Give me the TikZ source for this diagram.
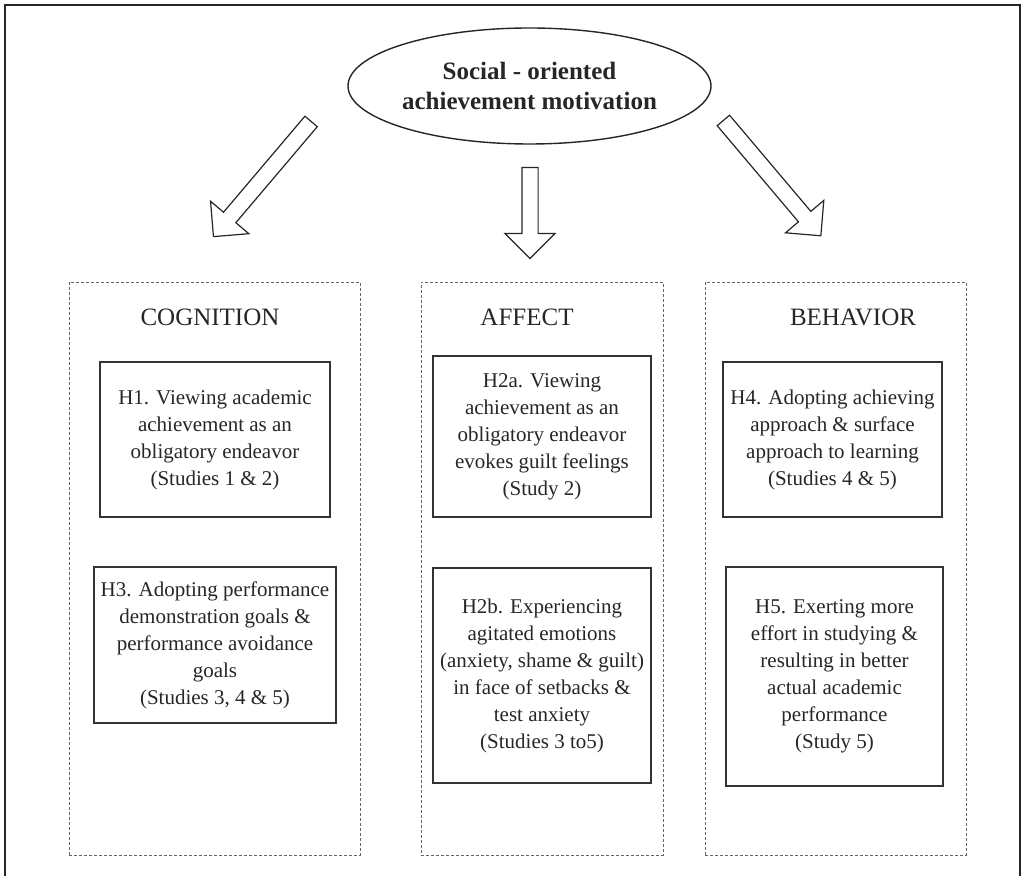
\documentclass[tikz,border=0pt]{standalone}
\usepackage{fontspec}
\setmainfont{Liberation Serif}
\usepackage{tikz}
\usetikzlibrary{
  shapes.geometric,
  shapes.arrows,
  positioning
}

\begin{document}
\begin{tikzpicture}[
  x=0.5pt, y=-0.5pt,
  hypbox/.style={
    draw=black!80, line width=0.7pt, align=center, text=black!85,
    font=\fontsize{10.5}{13.5}\selectfont, inner sep=2pt
  },
  domainbox/.style={
    draw=black!60, line width=0.4pt, dash pattern=on 1.5pt off 1pt
  },
  domaintitle/.style={font=\fontsize{12.5}{15}\selectfont, text=black!85},
  fatarrow/.style={
    single arrow, draw=black!85, line width=0.6pt, anchor=tail,
    inner xsep=0pt, inner ysep=3.75pt, single arrow head extend=8.5pt,
    single arrow tip angle=90, minimum height=75.5pt
  }
]
  \useasboundingbox (0,0) rectangle (1030,876);
  \draw[line width=0.8pt, black!85] (5,876) -- (5,5) -- (1020,5) -- (1020,876);

  % top construct
  \node[ellipse, draw=black!85, line width=0.7pt, inner sep=0pt,
        minimum width=181.5pt, minimum height=58pt, align=center,
        font=\fontsize{12.5}{15}\selectfont\bfseries, text=black!85]
    (som) at (529.5,86) {Social - oriented\\achievement motivation};

  \node[fatarrow, rotate=229.7] (arrL) at (311.5,121) {};
  \node[fatarrow, rotate=270, minimum height=45.5pt] (arrM) at (530,167) {};
  \node[fatarrow, rotate=-49.8] (arrR) at (723,120) {};

  % three domains
  \node[domainbox, minimum width=145.5pt, minimum height=286.5pt] (cog) at (214.5,568.5) {};
  \node[domainbox, minimum width=121pt, minimum height=286.5pt] (aff) at (542,568.5) {};
  \node[domainbox, minimum width=130.5pt, minimum height=286.5pt] (beh) at (835.5,568.5) {};

  \node[domaintitle] (cogT) at (210,317) {COGNITION};
  \node[domaintitle] (affT) at (527,317) {AFFECT};
  \node[domaintitle] (behT) at (853,317) {BEHAVIOR};

  % hypotheses
  \node[hypbox, minimum width=115pt, minimum height=77.5pt] (h1) at (215,439.5)
    {H1. Viewing academic\\achievement as an\\obligatory endeavor\\(Studies 1 \& 2)};
  \node[hypbox, minimum width=121pt, minimum height=78pt] (h3) at (215,645)
    {H3. Adopting performance\\demonstration goals \&\\performance avoidance\\goals\\(Studies 3, 4 \& 5)};
  \node[hypbox, minimum width=109pt, minimum height=80.5pt] (h2a) at (542,436.5)
    {H2a. Viewing\\achievement as an\\obligatory endeavor\\evokes guilt feelings\\(Study 2)};
  \node[hypbox, minimum width=109pt, minimum height=107.5pt] (h2b) at (542,675.5)
    {H2b. Experiencing\\agitated emotions\\(anxiety, shame \& guilt)\\in face of setbacks \&\\test anxiety\\(Studies 3 to5)};
  \node[hypbox, minimum width=109.5pt, minimum height=77.5pt] (h4) at (832.5,439.5)
    {H4. Adopting achieving\\approach \& surface\\approach to learning\\(Studies 4 \& 5)};
  \node[hypbox, minimum width=108.5pt, minimum height=109.5pt] (h5) at (834.5,676.5)
    {H5. Exerting more\\effort in studying \&\\resulting in better\\actual academic\\performance\\(Study 5)};
\end{tikzpicture}
\end{document}
